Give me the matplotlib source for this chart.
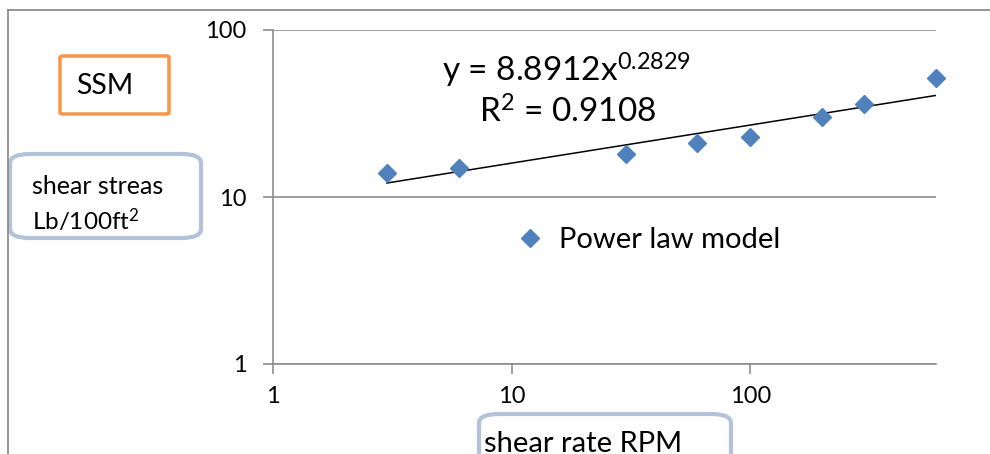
import numpy as np
import matplotlib
matplotlib.use("Agg")
import matplotlib.pyplot as plt
from matplotlib.patches import FancyBboxPatch
from matplotlib.lines import Line2D

plt.rcParams['font.family'] = ['Lato', 'DejaVu Sans']
plt.rcParams['mathtext.fontset'] = 'custom'
plt.rcParams['mathtext.rm'] = 'Lato'
plt.rcParams['mathtext.it'] = 'Lato'

# data
shear_rate = [3, 6, 30, 60, 100, 200, 300, 600]
shear_stress = [14, 15, 18, 21, 23, 30, 36, 51.5]
x_ticks = [1, 10, 100]
y_ticks = [1, 10, 100]
x_tick_labels = ["1", "10", "100"]
y_tick_labels = ["1", "10", "100"]

W, H = 990, 454
grey = "#8c8c8c"
blue = "#4f81bd"


def fx(x):
    return x / W


def fy(y):
    return 1 - y / H


fig = plt.figure(figsize=(9.9, 4.54), dpi=100)
fig.patch.set_facecolor("white")

ax = fig.add_axes([fx(273), fy(364), fx(936) - fx(273), fy(30) - fy(364)])
ax.set_xscale("log")
ax.set_yscale("log")
ax.set_xlim(1, 600)
ax.set_ylim(1, 100)

ax.plot(shear_rate, shear_stress, linestyle="none", marker="D", markersize=9.5,
        color=blue, label="Power law model", zorder=3, clip_on=False)

# power law trendline fitted on the points
k, b = np.polyfit(np.log10(shear_rate), np.log10(shear_stress), 1)
xs = np.array([shear_rate[0], shear_rate[-1]])
ax.plot(xs, 10 ** b * xs ** k, color="black", linewidth=1.1, zorder=2)

ax.set_xticks(x_ticks)
ax.set_xticklabels(x_tick_labels)
ax.set_yticks(y_ticks)
ax.set_yticklabels(y_tick_labels)
ax.minorticks_off()
ax.tick_params(axis="both", colors=grey, labelcolor="black", labelsize=17,
               length=7, width=1.2)
ax.tick_params(axis="x", pad=9)
ax.tick_params(axis="y", pad=12)
ax.yaxis.grid(True, color=grey, linewidth=1.2)
ax.set_axisbelow(True)
for s in ["top", "right"]:
    ax.spines[s].set_visible(False)
for s in ["left", "bottom"]:
    ax.spines[s].set_color(grey)
    ax.spines[s].set_linewidth(1.2)

ax.legend(loc="center left", bbox_to_anchor=(fx(518), fy(240)),
          bbox_transform=fig.transFigure, frameon=False, fontsize=21,
          handlelength=0.8, handletextpad=0.6, borderpad=0, borderaxespad=0)

fig.text(fx(567), fy(70), r"y = 8.8912x$^{\mathrm{0.2829}}$", fontsize=24,
         ha="center", va="center")
fig.text(fx(568), fy(112), r"R$^{\mathrm{2}}$ = 0.9108", fontsize=24,
         ha="center", va="center")

# outer chart border (top and left)
fig.add_artist(Line2D([fx(8), fx(990)], [fy(10), fy(10)], color=grey, linewidth=1.3))
fig.add_artist(Line2D([fx(8), fx(8)], [fy(10), fy(454)], color=grey, linewidth=1.3))

# text boxes
fig.add_artist(FancyBboxPatch((fx(60), fy(114)), fx(169) - fx(60), fy(56) - fy(114),
                              boxstyle="round,pad=0,rounding_size=0.003",
                              transform=fig.transFigure, facecolor="none",
                              edgecolor="#f79646", linewidth=2.5))
fig.text(fx(105), fy(86), "SSM", fontsize=20.5, ha="center", va="center")

fig.add_artist(FancyBboxPatch((fx(10), fy(238)), fx(201) - fx(10), fy(154) - fy(238),
                              boxstyle="round,pad=0,rounding_size=0.02",
                              transform=fig.transFigure, facecolor="none",
                              edgecolor="#b3c2d8", linewidth=3))
fig.text(fx(32), fy(186), "shear streas", fontsize=18, ha="left", va="center")
fig.text(fx(32), fy(220), r"Lb/100ft$^{\mathrm{2}}$", fontsize=17.5,
         ha="left", va="center")

fig.add_artist(FancyBboxPatch((fx(479), fy(470)), fx(731) - fx(479), fy(414) - fy(470),
                              boxstyle="round,pad=0,rounding_size=0.02",
                              transform=fig.transFigure, facecolor="none",
                              edgecolor="#b3c2d8", linewidth=3))
fig.text(fx(484), fy(444), "shear rate RPM", fontsize=21, ha="left", va="center")

fig.savefig("out.png", dpi=100)
